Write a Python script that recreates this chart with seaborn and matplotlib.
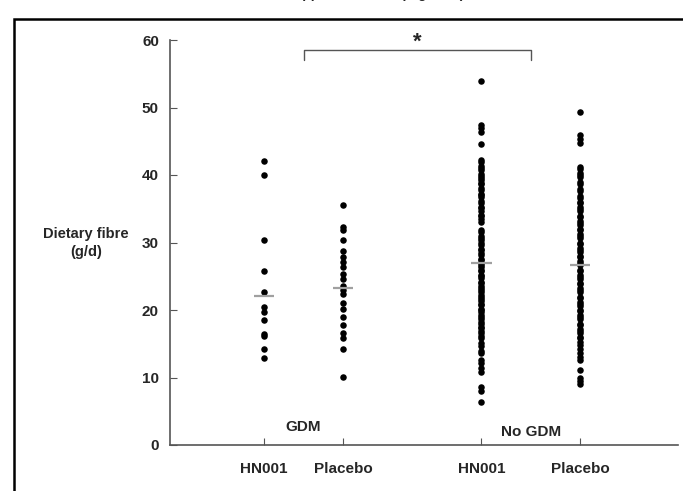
import numpy as np
import pandas as pd
import seaborn as sns
import matplotlib.pyplot as plt
from matplotlib.patches import Rectangle

# values (g/d)
gdm_hn001 = [42.1, 40.0, 30.4, 25.8, 22.6, 20.5, 19.7, 18.5, 16.5, 16.1, 14.2, 12.9]
gdm_placebo = [35.6, 32.3, 31.9, 30.3, 28.8, 27.8, 27.1, 26.3, 25.4, 24.6, 23.6,
               22.9, 22.3, 21.1, 20.2, 19.0, 17.8, 16.6, 15.9, 14.2, 10.1]
nogdm_hn001 = [54.0, 47.4, 46.9, 46.3, 44.6, 42.2, 41.9, 41.3, 41.0, 40.7, 40.2,
               39.9, 39.5, 39.2, 38.8, 38.6, 38.1, 37.8, 37.2, 37.0, 36.7, 36.1,
               35.9, 35.3, 35.1, 34.7, 34.1, 33.9, 33.5, 33.0, 31.8, 31.5, 30.9,
               30.7, 30.3, 30.0, 29.7, 29.1, 28.9, 28.4, 28.1, 27.6, 27.4, 26.9,
               26.7, 26.3, 26.0, 25.8, 25.2, 25.0, 24.7, 24.2, 24.0, 23.5, 23.3,
               22.9, 22.7, 22.2, 22.0, 21.6, 21.4, 20.9, 20.7, 20.2, 20.0, 19.7,
               19.2, 19.0, 18.7, 18.2, 18.0, 17.5, 17.3, 16.9, 16.6, 16.1, 15.8,
               15.1, 14.7, 14.0, 13.7, 12.6, 12.1, 11.4, 10.8, 8.6, 8.0, 6.4]
nogdm_placebo = [49.3, 45.9, 45.3, 44.8, 41.2, 40.9, 40.3, 40.0, 39.7, 38.9, 38.6,
                 38.0, 37.7, 36.9, 36.6, 36.0, 35.8, 35.2, 34.9, 34.6, 34.0, 33.8,
                 33.2, 32.9, 32.6, 32.0, 31.8, 31.2, 30.9, 30.6, 30.0, 29.8, 29.2,
                 28.9, 28.6, 28.0, 27.8, 27.2, 26.9, 26.6, 26.0, 25.8, 25.2, 24.9,
                 24.6, 24.0, 23.8, 23.2, 22.9, 22.6, 22.0, 21.8, 21.2, 20.9, 20.6,
                 20.0, 19.8, 19.2, 18.9, 18.6, 18.0, 17.8, 17.2, 16.9, 16.6, 16.0,
                 15.8, 15.2, 14.8, 14.2, 13.6, 13.0, 12.6, 11.1, 9.9, 9.5, 9.1]

groups = ["GDM HN001", "GDM Placebo", "No GDM HN001", "No GDM Placebo"]
tick_labels = ["HN001", "Placebo", "HN001", "Placebo"]
means = [22.1, 23.2, 27.0, 26.6]
group_x = [1, 2, 3.75, 5]

rows = []
for g, xs, vals in zip(groups, group_x, [gdm_hn001, gdm_placebo, nogdm_hn001, nogdm_placebo]):
    for v in vals:
        rows.append({"group": g, "x": xs, "fibre": v})
df = pd.DataFrame(rows)

sns.set_style("ticks")
plt.rcParams["font.family"] = ["Liberation Sans", "DejaVu Sans"]
plt.rcParams["font.weight"] = "bold"

fig = plt.figure(figsize=(6.83, 4.91), dpi=100)
ax = fig.add_axes([170 / 683, 1 - 445 / 491, 508 / 683, 405 / 491])

sns.scatterplot(data=df, x="x", y="fibre", color="black", s=22, linewidth=0, ax=ax, legend=False)

for xs, m in zip(group_x, means):
    ax.hlines(m, xs - 0.13, xs + 0.13, color="#a0a0a0", lw=1.6, zorder=3)

ax.set_xlim(-0.19, 6.24)
ax.set_ylim(0, 60)
ax.set_yticks([0, 10, 20, 30, 40, 50, 60])
ax.set_xticks(group_x)
ax.set_xticklabels(tick_labels)
ax.set_xlabel("")
ax.set_ylabel("")
for lab in ax.get_xticklabels() + ax.get_yticklabels():
    lab.set_fontweight("bold")
    lab.set_fontsize(11)
ax.tick_params(axis="x", direction="in", length=5, color="#555555", pad=12)
ax.tick_params(axis="y", direction="in", length=5, color="#555555", pad=8)
sns.despine(ax=ax)
for side in ["left", "bottom"]:
    ax.spines[side].set_color("#555555")
    ax.spines[side].set_linewidth(1.2)

# significance bracket between the two HN001 groups
bx0 = (group_x[0] + group_x[1]) / 2
bx1 = (group_x[2] + group_x[3]) / 2
ax.plot([bx0, bx0, bx1, bx1], [57.0, 58.5, 58.5, 57.0], color="#555555", lw=1.0, clip_on=False)
ax.text((bx0 + bx1) / 2, 59.6, "*", ha="center", va="center", fontsize=16, fontweight="bold", clip_on=False)

ax.text(bx0, 2.6, "GDM", ha="center", va="center", fontsize=11, fontweight="bold")
ax.text(bx1, 2.0, "No GDM", ha="center", va="center", fontsize=11, fontweight="bold")

fig.text(86 / 683, 1 - 243 / 491, "Dietary fibre\n(g/d)", ha="center", va="center",
         fontsize=10.5, fontweight="bold", linespacing=1.3)

# outer frame of the original figure, cut by the crop
fig.patches.append(Rectangle((14 / 683, -0.1), 1.2, 1.1 - 19 / 491, transform=fig.transFigure,
                             fill=False, edgecolor="black", lw=1.8, clip_on=False))
fig.text(0.55, 1 + 2 / 491, "supplementation (Figure 2)", ha="center", va="baseline",
         fontsize=10, fontweight="bold")

fig.savefig("out.png", dpi=100)
